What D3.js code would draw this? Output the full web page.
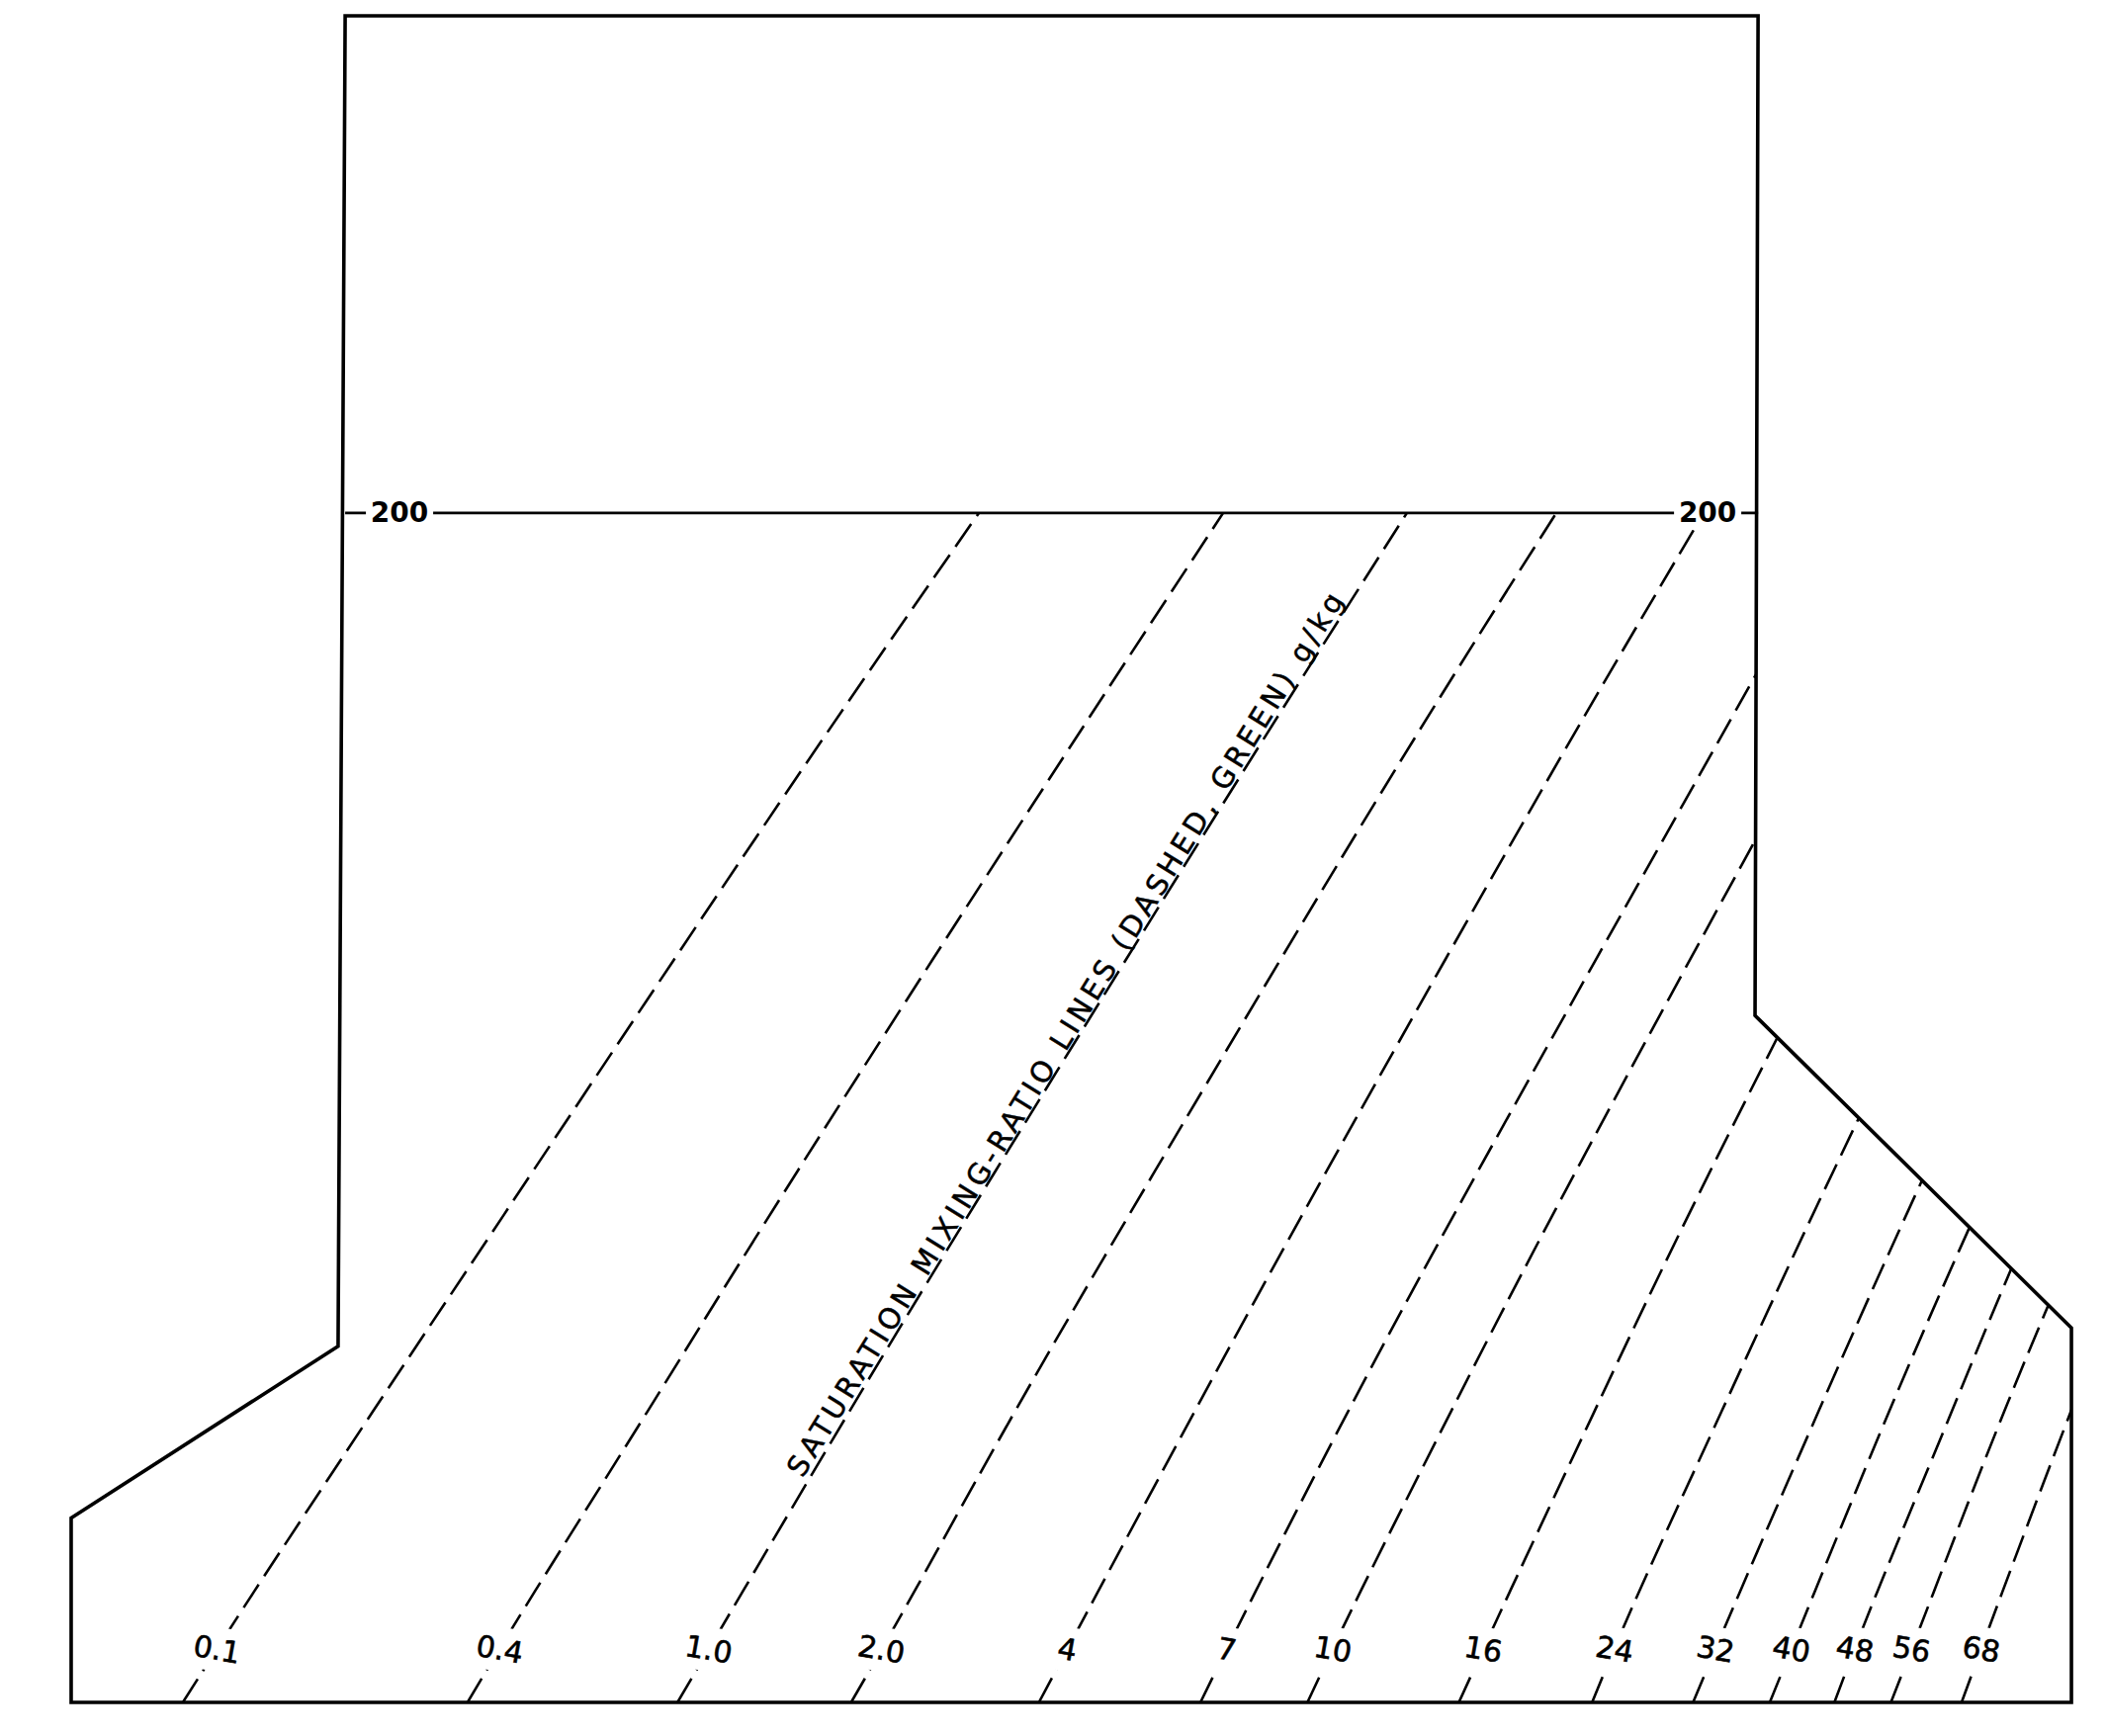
<!DOCTYPE html>
<html>
<head>
<meta charset="utf-8">
<script src="https://cdn.jsdelivr.net/npm/d3@7"></script>
<style>
  html, body { margin: 0; padding: 0; background: #ffffff; }
  svg { display: block; }
</style>
</head>
<body>
<svg id="chart" width="2130" height="1756"></svg>
<script>
// ---------------- DATA ----------------
// pressure levels (hPa) at which each saturation mixing-ratio line is read
const pressureLevels = [1050, 900, 700, 500, 300, 200];

// saturation mixing-ratio line labels (g/kg)
const mixingRatioLabels = ["0.1", "0.4", "1.0", "2.0", "4", "7", "10", "16", "24", "32", "40", "48", "56", "68"];

// temperature (deg C) of each line at the pressure levels above
const satTemps = [
  [-41.1, -42.6, -44.9, -47.9, -52.4, -55.7],
  [-27.0, -28.7, -31.3, -34.8, -39.8, -43.6],
  [-16.6, -18.4, -21.3, -25.0, -30.4, -34.5],
  [ -8.0,  -9.9, -13.1, -17.1, -22.9, -27.1],
  [  1.3,  -0.8,  -4.2,  -8.6, -15.0, -19.8],
  [  9.3,   7.0,   3.4,  -1.1,  -7.6, -12.7],
  [ 14.6,  12.2,   8.5,   3.75, -3.05, -8.3],
  [ 22.1,  19.6,  15.6,  10.4,   3.0,  -2.6],
  [ 28.7,  26.0,  21.9,  16.5,   8.7,   2.8],
  [ 33.7,  31.0,  26.7,  21.1,  13.0,   7.0],
  [ 37.5,  34.7,  30.2,  24.5,  16.3,  10.1],
  [ 40.7,  37.8,  33.3,  27.4,  19.0,  12.7],
  [ 43.5,  40.6,  35.9,  30.0,  21.4,  15.0],
  [ 47.0,  44.0,  39.2,  33.1,  24.4,  17.8]
];

// outline of the diagram: [temperature at base (deg C), pressure (hPa)]
const frameVertices = [
  [-33.06, 100], [36.92, 100], [36.77, 403], [52.44, 623],
  [52.44, 1050], [-46.63, 1050], [-46.63, 812], [-33.41, 639]
];

const isobarValue = 200;
const isobarLabels = ["200", "200"];
const labelPressure = 975;            // where the g/kg numbers sit on their lines
const titleLine = "1.0";              // the title is written along this line
const titlePressures = [772, 227];
const titleText = "SATURATION MIXING-RATIO LINES (DASHED, GREEN) g/kg";

// ---------------- SCALES ----------------
const svg = d3.select("#chart");
const y = d3.scaleLog().domain([1050, 100]).range([1722, 16]);
const xT = d3.scaleLinear().domain([-41.11, 46.42]).range([184.7, 1972.1]);
const skew = 0.917; // horizontal shift per pixel of height (skewed isotherms)
const sx = (T, p) => xT(T) + skew * (y(1050) - y(p));

function tempAt(temps, p) {
  for (let j = 0; j < pressureLevels.length - 1; j++) {
    const p0 = pressureLevels[j], p1 = pressureLevels[j + 1];
    if (p <= p0 && p >= p1) {
      const f = Math.log(p0 / p) / Math.log(p0 / p1);
      return temps[j] + f * (temps[j + 1] - temps[j]);
    }
  }
  return temps[temps.length - 1];
}

const frameLine = d3.line().x(d => xT(d[0])).y(d => y(d[1]));

// clip region: diagram outline cut at the 200 hPa isobar
svg.append("defs").append("clipPath").attr("id", "plotClip")
  .append("path")
  .attr("d", frameLine(frameVertices.map(d => [d[0], Math.max(d[1], isobarValue)])) + "Z");

// ---------------- MIXING-RATIO LINES ----------------
const lineGen = d3.line().curve(d3.curveNatural);
svg.append("g").attr("clip-path", "url(#plotClip)")
  .selectAll("path").data(satTemps).join("path")
  .attr("d", temps => lineGen(pressureLevels.map((p, j) => [sx(temps[j], p), y(p)])))
  .attr("fill", "none")
  .attr("stroke", "#000")
  .attr("stroke-width", 2.6)
  .attr("stroke-dasharray", "28,10");

// ---------------- 200 hPa ISOBAR ----------------
const yIso = y(isobarValue);
const xLeft = xT(frameVertices[0][0]);
const xRight = xT(frameVertices[1][0]);
svg.append("line")
  .attr("x1", xLeft).attr("x2", xRight)
  .attr("y1", yIso).attr("y2", yIso)
  .attr("stroke", "#000").attr("stroke-width", 2.8);

// ---------------- OUTLINE ----------------
svg.append("path")
  .attr("d", frameLine(frameVertices) + "Z")
  .attr("fill", "none")
  .attr("stroke", "#000")
  .attr("stroke-width", 3.6)
  .attr("stroke-linejoin", "miter");

// ---------------- ISOBAR LABELS ----------------
const isoLabelX = [xLeft + 55, xRight - 51];
const isoG = svg.append("g");
isoG.selectAll("rect").data(isobarLabels).join("rect")
  .attr("x", (d, i) => isoLabelX[i] - 34)
  .attr("y", yIso - 17)
  .attr("width", 68).attr("height", 34)
  .attr("fill", "#fff");
isoG.selectAll("text").data(isobarLabels).join("text")
  .attr("x", (d, i) => isoLabelX[i])
  .attr("y", yIso)
  .attr("text-anchor", "middle")
  .attr("dominant-baseline", "central")
  .attr("font-family", "DejaVu Sans")
  .attr("font-weight", "bold")
  .attr("font-size", 28)
  .attr("fill", "#000")
  .text(d => d);

// ---------------- LINE LABELS ----------------
const lab = svg.append("g").selectAll("g").data(mixingRatioLabels).join("g")
  .attr("transform", (d, i) => {
    const px = sx(tempAt(satTemps[i], labelPressure), labelPressure);
    const py = y(labelPressure);
    return `translate(${px},${py}) rotate(10)`;
  });
lab.append("rect").attr("fill", "#fff");
lab.append("text")
  .attr("text-anchor", "middle")
  .attr("dominant-baseline", "central")
  .attr("font-family", "DejaVu Sans")
  .attr("font-size", 30)
  .attr("fill", "#000")
  .attr("stroke", "#000")
  .attr("stroke-width", 0.6)
  .text(d => d);
lab.each(function () {
  const g = d3.select(this);
  const b = g.select("text").node().getBBox();
  g.select("rect")
    .attr("x", b.x - 4).attr("y", b.y - 5)
    .attr("width", b.width + 8).attr("height", b.height + 10);
});

// ---------------- TITLE ALONG THE 1.0 LINE ----------------
const iRef = mixingRatioLabels.indexOf(titleLine);
const pA = [sx(tempAt(satTemps[iRef], titlePressures[0]), titlePressures[0]), y(titlePressures[0])];
const pB = [sx(tempAt(satTemps[iRef], titlePressures[1]), titlePressures[1]), y(titlePressures[1])];
const ang = Math.atan2(pB[1] - pA[1], pB[0] - pA[0]);
const len = Math.hypot(pB[0] - pA[0], pB[1] - pA[1]);
const off = 6;
const ox = pA[0] + Math.sin(ang) * off;
const oy = pA[1] - Math.cos(ang) * off;
svg.append("text")
  .attr("transform", `translate(${ox},${oy}) rotate(${ang * 180 / Math.PI})`)
  .attr("font-family", "DejaVu Sans")
  .attr("font-size", 29)
  .attr("fill", "#000")
  .attr("stroke", "#000")
  .attr("stroke-width", 0.5)
  .attr("textLength", len)
  .attr("lengthAdjust", "spacing")
  .text(titleText);
</script>
</body>
</html>
